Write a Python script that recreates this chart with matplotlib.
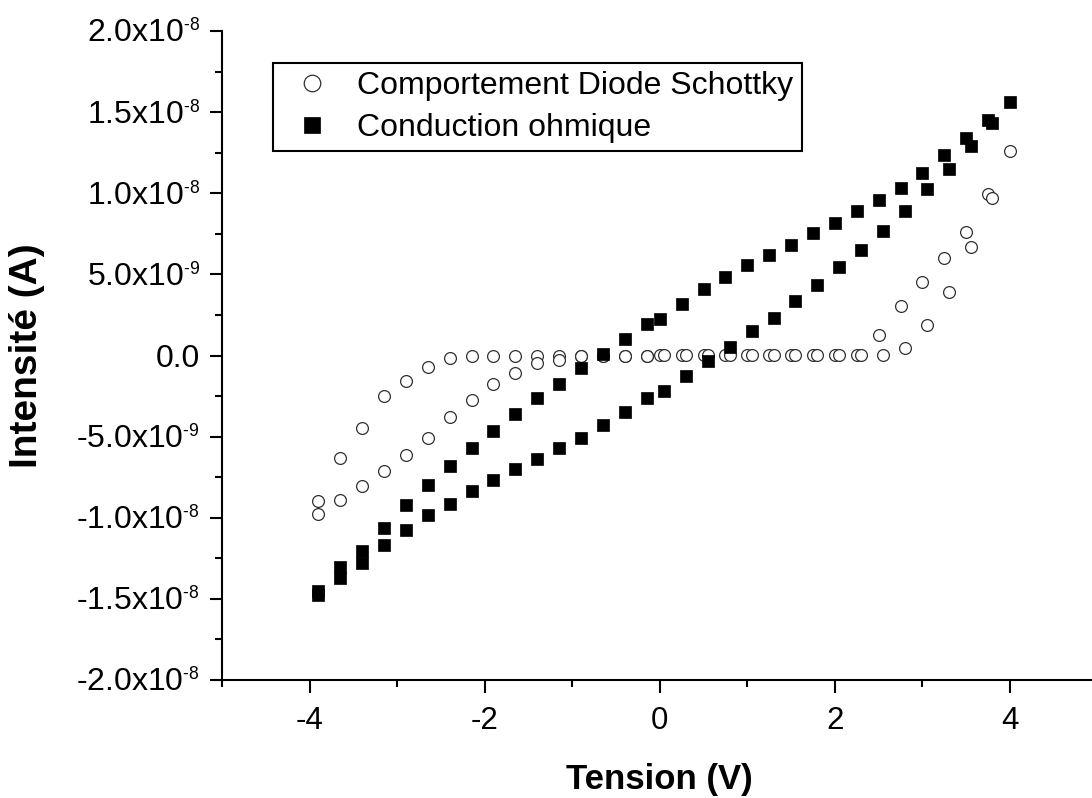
import numpy as np
import matplotlib
matplotlib.use("Agg")
import matplotlib.pyplot as plt
import matplotlib._mathtext as mathtext_internals
from matplotlib.ticker import MultipleLocator, FuncFormatter

plt.rcParams['font.family'] = ['Liberation Sans', 'DejaVu Sans']
plt.rcParams['mathtext.fontset'] = 'custom'
plt.rcParams['mathtext.rm'] = 'Liberation Sans'
plt.rcParams['mathtext.default'] = 'regular'
plt.rcParams['axes.unicode_minus'] = False
# Origin draws the exponents much smaller than mathtext's default 0.7
mathtext_internals.SHRINK_FACTOR = 0.55

# currents are in nA, voltages in V
# ohmic conduction, upper branch
ohm_up_v = [-3.9, -3.65, -3.4, -3.15, -2.9, -2.65, -2.4, -2.15, -1.9, -1.65, -1.4,
            -1.15, -0.9, -0.65, -0.4, -0.15, 0.0, 0.25, 0.5, 0.75, 1.0, 1.25, 1.5,
            1.75, 2.0, 2.25, 2.5, 2.75, 3.0, 3.25, 3.5, 3.75, 4.0]
ohm_up_i = [-14.53, -13.05, -12.07, -10.63, -9.23, -8.00, -6.83, -5.70, -4.67, -3.58,
            -2.59, -1.77, -0.80, 0.08, 1.00, 1.93, 2.28, 3.16, 4.07, 4.85, 5.57, 6.18,
            6.80, 7.52, 8.18, 8.90, 9.58, 10.33, 11.22, 12.35, 13.38, 14.51, 15.64]

# ohmic conduction, lower branch
ohm_dn_v = [-3.9, -3.65, -3.4, -3.15, -2.9, -2.65, -2.4, -2.15, -1.9, -1.65, -1.4,
            -1.15, -0.9, -0.65, -0.4, -0.15, 0.05, 0.3, 0.55, 0.8, 1.05, 1.3, 1.55,
            1.8, 2.05, 2.3, 2.55, 2.8, 3.05, 3.3, 3.55, 3.8]
ohm_dn_i = [-14.78, -13.73, -12.79, -11.70, -10.73, -9.85, -9.13, -8.35, -7.69, -7.01,
            -6.35, -5.70, -5.06, -4.30, -3.51, -2.59, -2.18, -1.28, -0.35, 0.53, 1.48,
            2.34, 3.35, 4.33, 5.43, 6.49, 7.66, 8.92, 10.24, 11.49, 12.92, 14.31]

# schottky diode, first sweep
sch_a_v = ohm_up_v
sch_a_i = [-8.97, -6.31, -4.48, -2.51, -1.60, -0.70, -0.18, 0.0, 0.0, 0.0, 0.0, 0.0,
           0.0, 0.0, 0.0, 0.0, 0.05, 0.05, 0.05, 0.05, 0.05, 0.05, 0.05, 0.05, 0.05,
           0.05, 1.25, 3.06, 4.56, 5.98, 7.62, 9.93, 12.62]

# schottky diode, second sweep
sch_b_v = ohm_dn_v
sch_b_i = [-9.74, -8.92, -8.06, -7.12, -6.15, -5.06, -3.82, -2.76, -1.77, -1.07, -0.49,
           -0.25, -0.03, 0.0, 0.0, 0.0, 0.05, 0.05, 0.05, 0.05, 0.05, 0.05, 0.05, 0.05,
           0.05, 0.05, 0.06, 0.49, 1.85, 3.92, 6.70, 9.68]


def sci_label(v, pos):
    if abs(v) < 1e-15:
        return '0.0'
    exp = int(np.floor(np.log10(abs(v)) + 1e-9))
    exp_txt = str(exp).replace('-', '\u2010')
    return f'{v / 10**exp:.1f}x10$^{{{exp_txt}}}$'


W, H = 1092, 798
fig = plt.figure(figsize=(W / 100, H / 100), dpi=100)
ax = fig.add_axes([222 / W, 118 / H, 875.5 / W, 649 / H])

nA = 1e-9
circ = dict(marker='o', ms=8.5, mfc='white', mec='#303030', mew=0.9, ls='none')
sq = dict(marker='s', ms=8, mfc='black', mec='black', mew=0.5, ls='none')

h1, = ax.plot(sch_a_v, np.array(sch_a_i) * nA, label='Comportement Diode Schottky', **circ)
ax.plot(sch_b_v, np.array(sch_b_i) * nA, **circ)
h2, = ax.plot(ohm_up_v, np.array(ohm_up_i) * nA, label='Conduction ohmique', zorder=3, **sq)
ax.plot(ohm_dn_v, np.array(ohm_dn_i) * nA, zorder=3, **sq)

ax.set_xlim(-5, 5)
ax.set_ylim(-2e-8, 2e-8)
ax.xaxis.set_major_locator(MultipleLocator(2))
ax.xaxis.set_minor_locator(MultipleLocator(1))
ax.yaxis.set_major_locator(MultipleLocator(5e-9))
ax.yaxis.set_minor_locator(MultipleLocator(2.5e-9))
ax.yaxis.set_major_formatter(FuncFormatter(sci_label))

for s in ['top', 'right']:
    ax.spines[s].set_visible(False)
for s in ['left', 'bottom']:
    ax.spines[s].set_linewidth(1.5)

ax.tick_params(which='major', direction='out', length=9, width=1.5)
ax.tick_params(which='minor', direction='out', length=5, width=1.5)
ax.tick_params(axis='x', which='major', pad=10, labelsize=22.5)
ax.tick_params(axis='y', which='major', pad=7, labelsize=23)

ax.set_xlabel('Tension (V)', fontsize=25, fontweight='bold', va='top')
ax.xaxis.set_label_coords(0.5, -0.1279)
ax.set_ylabel('Intensité (A)', fontsize=28, fontweight='bold')
ax.yaxis.set_label_coords(-0.2022, 0.5)

# legend box, top-left corner at pixel (273, 63)
leg = fig.legend(handles=[h1, h2], loc='upper left',
                 bbox_to_anchor=(273 / W, 1 - 63 / H), bbox_transform=fig.transFigure,
                 fontsize=23, frameon=True, fancybox=False, framealpha=1,
                 edgecolor='black', borderaxespad=0, borderpad=0.26, labelspacing=0.37,
                 handlelength=1.9, handletextpad=0.48, markerscale=1.4)
leg.get_frame().set_linewidth(1.5)

fig.savefig('out.png', dpi=100)
